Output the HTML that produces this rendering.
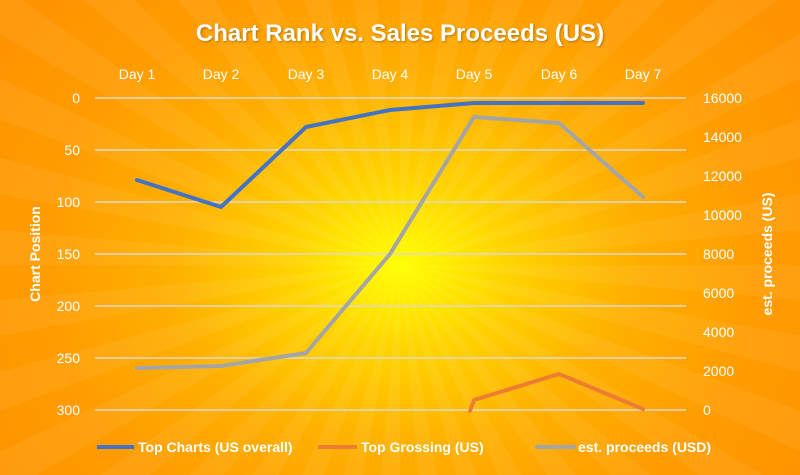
<!DOCTYPE html>
<html><head><style>
html,body{margin:0;padding:0;}
body{width:800px;height:475px;overflow:hidden;position:relative;font-family:"Liberation Sans",sans-serif;
background:radial-gradient(ellipse 480px 380px at 400px 265px,#ffff00 0%,#ffd400 22%,#ffb000 48%,#ff9c00 75%,#ff9400 100%);}
.rays{position:absolute;inset:0;background:repeating-conic-gradient(from 0deg at 400px 265px,rgba(255,255,255,0.06) 0deg 5deg,rgba(255,255,255,0) 5deg 10deg);}
svg{position:absolute;left:0;top:0;}
text{font-family:"Liberation Sans",sans-serif;fill:#fff;}
</style></head><body>
<div class="rays"></div>
<svg width="800" height="475">
<text x="400" y="41" text-anchor="middle" font-size="24" font-weight="bold" style="filter:drop-shadow(1px 1px 1px rgba(0,0,0,0.3))">Chart Rank vs. Sales Proceeds (US)</text>
<g font-size="14" text-anchor="middle">
<text x="137" y="79">Day 1</text><text x="221" y="79">Day 2</text><text x="306" y="79">Day 3</text><text x="390" y="79">Day 4</text><text x="474" y="79">Day 5</text><text x="559" y="79">Day 6</text><text x="643" y="79">Day 7</text>
</g>
<g stroke="#e0d8c8" stroke-width="1.5">
<line x1="95" x2="686" y1="98" y2="98"/><line x1="95" x2="686" y1="150" y2="150"/><line x1="95" x2="686" y1="202" y2="202"/><line x1="95" x2="686" y1="254" y2="254"/><line x1="95" x2="686" y1="306" y2="306"/><line x1="95" x2="686" y1="358" y2="358"/><line x1="95" x2="686" y1="410" y2="410"/>
</g>
<g font-size="14" text-anchor="end">
<text x="80" y="103">0</text><text x="80" y="155">50</text><text x="80" y="207">100</text><text x="80" y="259">150</text><text x="80" y="311">200</text><text x="80" y="363">250</text><text x="80" y="415">300</text>
</g>
<g font-size="14" text-anchor="start">
<text x="703" y="103">16000</text><text x="703" y="142">14000</text><text x="703" y="181">12000</text><text x="703" y="220">10000</text><text x="703" y="259">8000</text><text x="703" y="298">6000</text><text x="703" y="337">4000</text><text x="703" y="376">2000</text><text x="703" y="415">0</text>
</g>
<text transform="translate(40,254) rotate(-90)" text-anchor="middle" font-size="14" font-weight="bold">Chart Position</text>
<text transform="translate(772,254) rotate(-90)" text-anchor="middle" font-size="14" font-weight="bold">est. proceeds (US)</text>
<polyline fill="none" stroke="#a5a5a5" stroke-width="4" stroke-linejoin="round" stroke-linecap="round" points="137,368 221,366 306,353 390,254 474,117 559,123 643,197"/>
<polyline fill="none" stroke="#ed7d31" stroke-width="4" stroke-linejoin="round" stroke-linecap="round" points="470,411 474,400 559,374 643,409"/>
<polyline fill="none" stroke="#4472c4" stroke-width="4" stroke-linejoin="round" stroke-linecap="round" points="137,180 221,207 306,127 390,110 474,103 559,103 643,103"/>
<g font-size="14" font-weight="bold">
<line x1="97" x2="134" y1="447" y2="447" stroke="#4472c4" stroke-width="4"/><text x="138" y="452">Top Charts (US overall)</text>
<line x1="318" x2="357" y1="447" y2="447" stroke="#ed7d31" stroke-width="4"/><text x="361" y="452">Top Grossing (US)</text>
<line x1="537" x2="574" y1="447" y2="447" stroke="#a5a5a5" stroke-width="4" stroke-linecap="round"/><text x="578" y="452">est. proceeds (USD)</text>
</g>
</svg>
</body></html>
